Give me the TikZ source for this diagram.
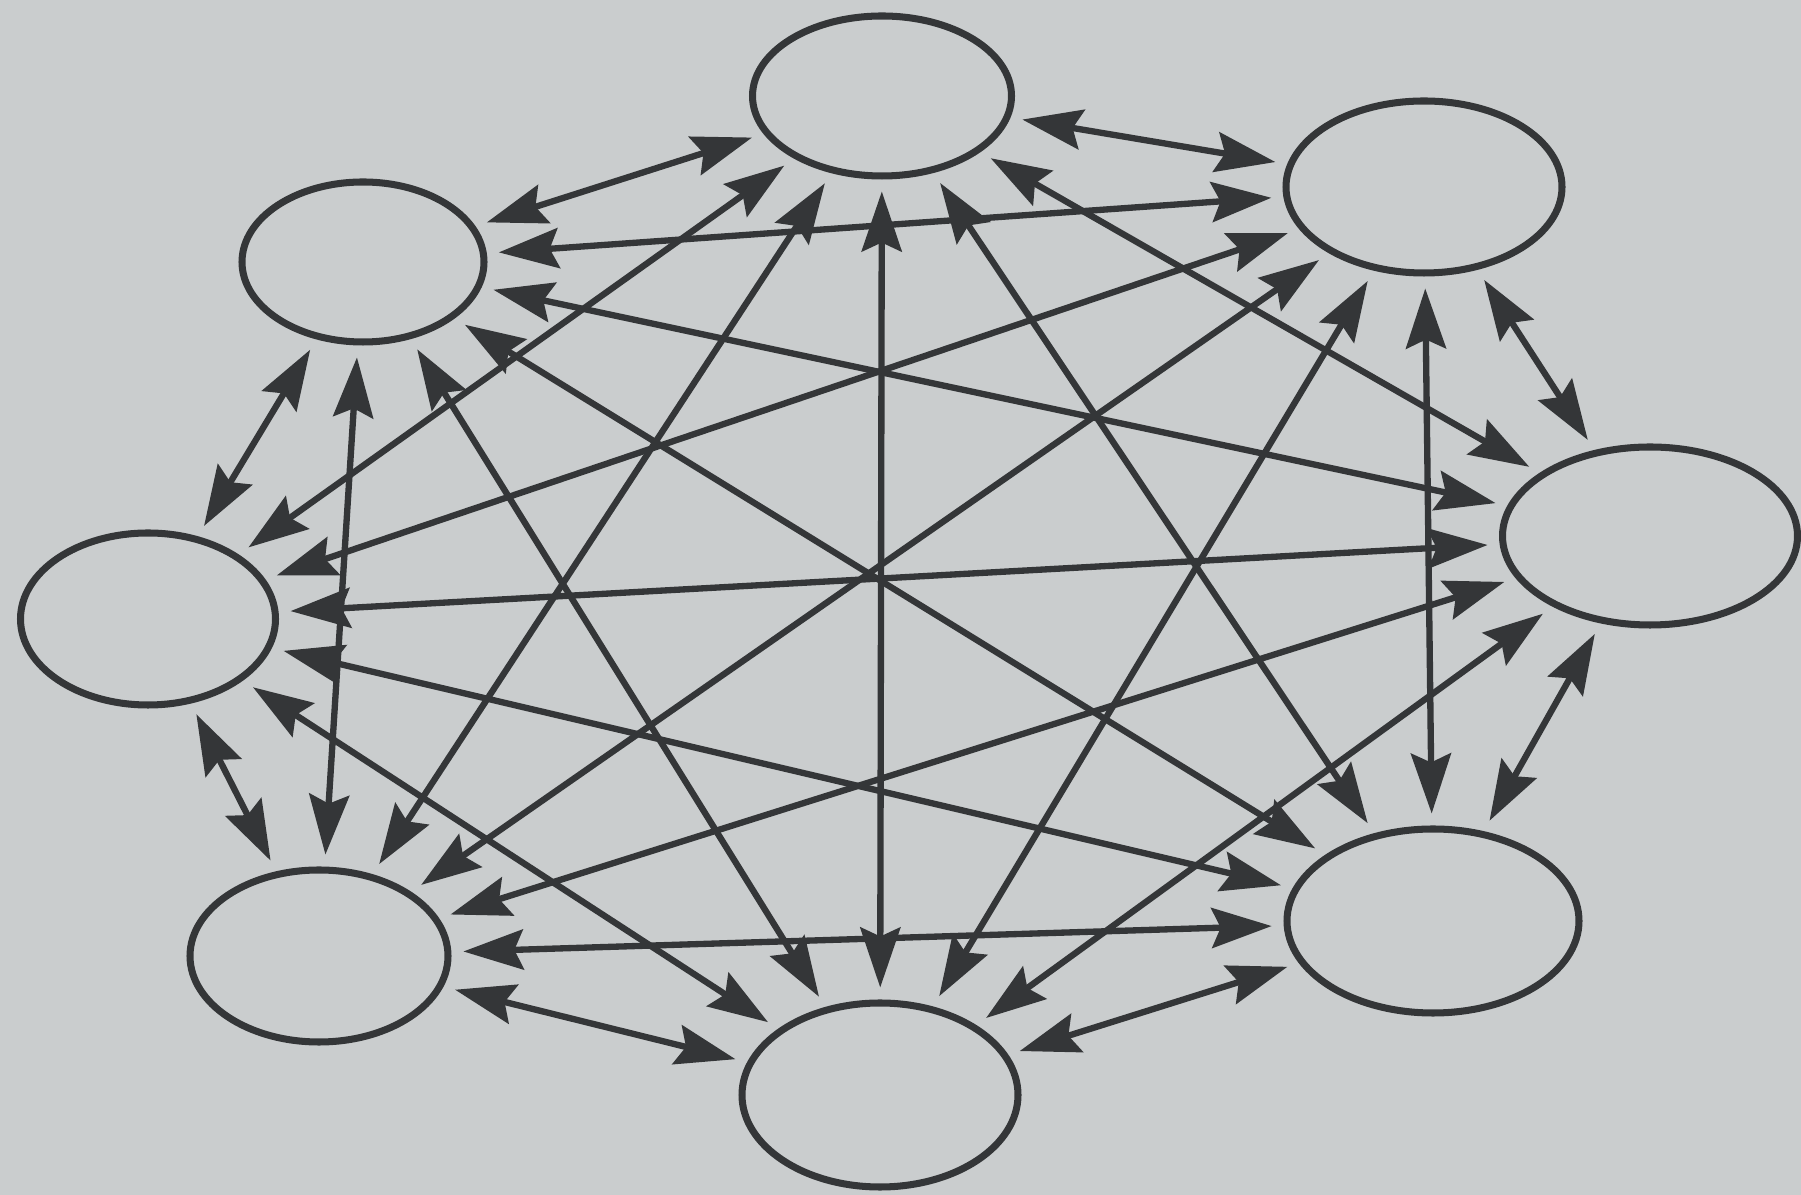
\documentclass[tikz,border=0pt]{standalone}
\usepackage{tikz}
\usetikzlibrary{shapes.geometric}
\usetikzlibrary{arrows.meta}
\definecolor{ink}{RGB}{52,54,56}
\definecolor{paper}{RGB}{202,205,206}
\begin{document}
\begin{tikzpicture}[
every node/.style={ellipse, draw=ink, line width=2pt, inner sep=0},
every path/.style={line width=1.8pt},
>={Stealth[length=6mm, width=4mm, inset=0.9mm]},
color=ink, shorten >=1.2mm, shorten <=1.2mm
]
\fill[paper] (0,0) rectangle (18.01,11.95);
\useasboundingbox (0,0) rectangle (18.01,11.95);
\node[minimum width=2.59cm, minimum height=1.60cm] (a) at (8.82,10.99) {};
\node[minimum width=2.76cm, minimum height=1.72cm] (b) at (14.24,10.08) {};
\node[minimum width=2.95cm, minimum height=1.78cm] (c) at (16.50,6.59) {};
\node[minimum width=2.92cm, minimum height=1.84cm] (d) at (14.33,2.74) {};
\node[minimum width=2.76cm, minimum height=1.84cm] (e) at (8.80,1.00) {};
\node[minimum width=2.58cm, minimum height=1.72cm] (f) at (3.19,2.39) {};
\node[minimum width=2.55cm, minimum height=1.72cm] (g) at (1.48,5.76) {};
\node[minimum width=2.42cm, minimum height=1.60cm] (h) at (3.63,9.33) {};
\draw[<->] (a) to (b);
\draw[<->] (a) to (c);
\draw[<->] (a) to (d);
\draw[<->] (a) to (e);
\draw[<->] (a) to (f);
\draw[<->] (a) to (g);
\draw[<->] (a) to (h);

\draw[<->] (b) to (c);
\draw[<->] (b) to (d);
\draw[<->] (b) to (e);
\draw[<->] (b) to (f);
\draw[<->] (b) to (g);
\draw[<->] (b) to (h);

\draw[<->] (c) to (d);
\draw[<->] (c) to (e);
\draw[<->] (c) to (f);
\draw[<->] (c) to (g);
\draw[<->] (c) to (h);

\draw[<->] (d) to (e);
\draw[<->] (d) to (f);
\draw[<->] (d) to (g);
\draw[<->] (d) to (h);

\draw[<->] (e) to (f);
\draw[<->] (e) to (g);
\draw[<->] (e) to (h);

\draw[<->] (f) to (g);
\draw[<->] (f) to (h);

\draw[<->] (g) to (h);
\end{tikzpicture}
\end{document}
